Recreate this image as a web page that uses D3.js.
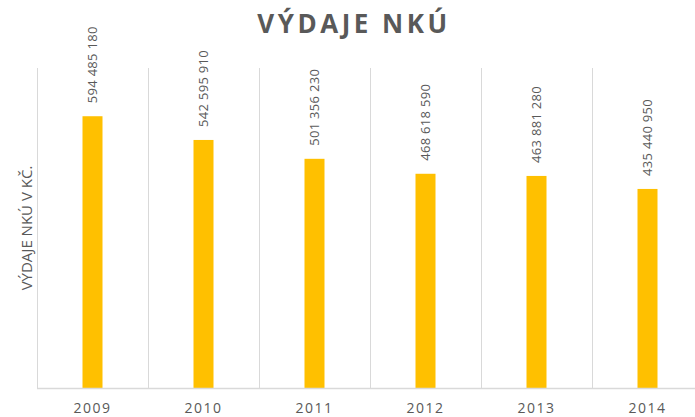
<!DOCTYPE html>
<html lang="cs">
<head>
  <meta charset="UTF-8">
  <title>Výdaje NKÚ</title>
  <script src="https://d3js.org/d3.v7.min.js"></script>
  <style>
    body { margin: 0; background: #fff; }
    text { font-family: "Open Sans", sans-serif; fill: #595959; }
  </style>
</head>
<body>
  <div id="chart"></div>
  <script>
  var years = ["2009", "2010", "2011", "2012", "2013", "2014"];
  var values = [594485180, 542595910, 501356230, 468618590, 463881280, 435440950];
  var yMax = 700000000;

  var w = 695, h = 417;
  var margin = {top: 68, right: -8, bottom: 29, left: 37};

  var svg = d3.select("#chart").append("svg")
    .attr("width", w)
    .attr("height", h);

  var x = d3.scaleBand()
    .domain(years)
    .range([margin.left, w - margin.right]);

  var y = d3.scaleLinear()
    .domain([0, yMax])
    .range([h - margin.bottom, margin.top]);

  // vertical grid lines between categories
  svg.append("g")
    .selectAll("line")
    .data(years)
    .enter()
    .append("line")
    .attr("x1", d => x(d) + 0.5)
    .attr("x2", d => x(d) + 0.5)
    .attr("y1", y(yMax))
    .attr("y2", y(0))
    .attr("stroke", "#d9d9d9")
    .attr("stroke-width", 1);

  // bars
  var barW = 20;
  svg.append("g")
    .selectAll("rect")
    .data(values)
    .enter()
    .append("rect")
    .attr("x", (d, i) => x(years[i]) + x.bandwidth() / 2 - barW / 2)
    .attr("y", d => y(d))
    .attr("width", barW)
    .attr("height", d => y(0) - y(d))
    .attr("fill", "#ffc000");

  // baseline
  svg.append("line")
    .attr("x1", margin.left)
    .attr("x2", w)
    .attr("y1", y(0) + 0.5)
    .attr("y2", y(0) + 0.5)
    .attr("stroke", "#d9d9d9")
    .attr("stroke-width", 1.5);

  // value labels, rotated
  var fmt = v => d3.format(",")(v).replace(/,/g, " ");
  svg.append("g")
    .selectAll("text")
    .data(values)
    .enter()
    .append("text")
    .attr("transform", (d, i) => "translate(" + (x(years[i]) + x.bandwidth() / 2 + 4.5) + "," + (y(d) - 13) + ") rotate(-90)")
    .attr("font-size", "13px")
    .attr("letter-spacing", "0.3px")
    .text(d => fmt(d));

  // category labels
  svg.append("g")
    .selectAll("text")
    .data(years)
    .enter()
    .append("text")
    .attr("x", d => x(d) + x.bandwidth() / 2)
    .attr("y", 413)
    .attr("text-anchor", "middle")
    .attr("font-size", "14px")
    .attr("letter-spacing", "1.5px")
    .text(d => d);

  // title
  svg.append("text")
    .attr("x", 354)
    .attr("y", 33)
    .attr("text-anchor", "middle")
    .attr("font-size", "26px")
    .attr("font-weight", "bold")
    .attr("letter-spacing", "3.5px")
    .text("VÝDAJE NKÚ");

  // y axis title
  svg.append("text")
    .attr("transform", "translate(31.5," + ((y(0) + y(yMax)) / 2) + ") rotate(-90)")
    .attr("text-anchor", "middle")
    .attr("font-size", "15px")
    .text("VÝDAJE NKÚ V KČ.");
  </script>
</body>
</html>
